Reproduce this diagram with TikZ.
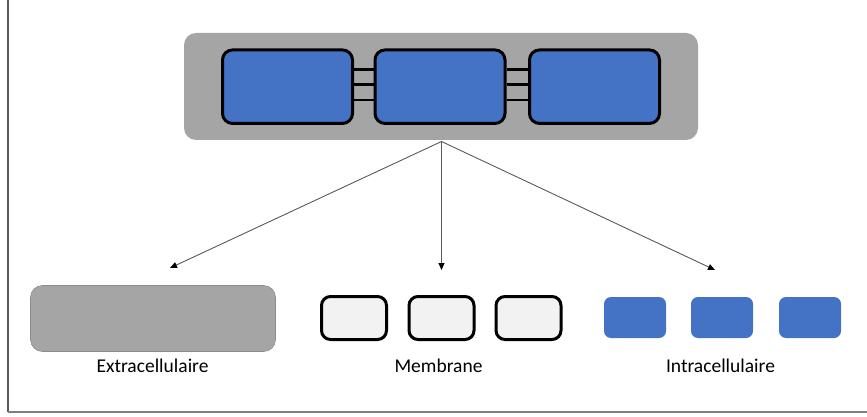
\documentclass[tikz,border=0pt]{standalone}
\usepackage{fontspec}
\setmainfont{Carlito}
\usetikzlibrary{arrows.meta}
\definecolor{boxgray}{HTML}{A5A5A5}
\definecolor{boxblue}{HTML}{4472C4}
\definecolor{lightfill}{HTML}{F2F2F2}
\definecolor{arrowgray}{HTML}{595959}
\definecolor{framegray}{HTML}{7F7F7F}
\tikzset{
  holder/.style={fill=boxgray, rounded corners=12pt, inner sep=0pt},
  bluebox/.style={fill=boxblue, draw=black, line width=3pt, rounded corners=10pt,
                  inner sep=0pt, minimum width=130pt, minimum height=73.5pt},
  rung/.style={draw=black, line width=2.6pt},
  pointer/.style={draw=arrowgray, line width=0.9pt,
                  -{Triangle[length=7pt,width=6pt,fill=black,color=black]}},
  extrabox/.style={fill=boxgray, draw=boxgray!85!black, line width=0.6pt,
                   rounded corners=12pt, inner sep=0pt,
                   minimum width=245pt, minimum height=66pt},
  membox/.style={fill=lightfill, draw=black, line width=3pt, rounded corners=9pt,
                 inner sep=0pt, minimum width=65pt, minimum height=43pt},
  intrabox/.style={fill=boxblue, rounded corners=7pt, inner sep=0pt,
                   minimum width=62pt, minimum height=41pt},
  caption/.style={font=\fontsize{19.5pt}{23pt}\selectfont, text=black, inner sep=0pt}
}
\begin{document}
\begin{tikzpicture}[x=1pt, y=-1pt]
  \useasboundingbox (0,0) rectangle (867,417);
  % frame lines on the left and bottom
  \draw[framegray!70!black, line width=1.4pt] (8,0) -- (8,412);
  \draw[framegray, line width=1.4pt] (8,412) -- (867,412);

  % top complex: three linked blue units on a gray holder
  \node[holder, minimum width=514pt, minimum height=107pt] (holder) at (441,86.5) {};
  \node[bluebox] (u1) at (287.5,86.7) {};
  \node[bluebox] (u2) at (440,86.7) {};
  \node[bluebox] (u3) at (594.5,86.7) {};
  \foreach \dy in {17,2,-13.5}{
    \draw[rung] ([yshift=\dy pt]u1.east) -- ([yshift=\dy pt]u2.west);
    \draw[rung] ([yshift=\dy pt]u2.east) -- ([yshift=\dy pt]u3.west);
  }

  % arrow targets
  \coordinate (hub) at (441.5,141.5);
  \coordinate (tExtra) at (170,268);
  \coordinate (tMem) at (441.5,270);
  \coordinate (tIntra) at (715,270);
  \draw[pointer] (hub) -- (tExtra);
  \draw[pointer] (hub) -- (tMem);
  \draw[pointer] (hub) -- (tIntra);

  % extracellular
  \node[extrabox] (extra) at (153,318.5) {};
  \node[caption] (lExtra) at (152.5,366) {Extracellulaire};

  % membrane
  \node[membox] (m1) at (354,318) {};
  \node[membox] (m2) at (441.5,318) {};
  \node[membox] (m3) at (528.5,318) {};
  \node[caption] (lMem) at (438.5,366) {Membrane};

  % intracellular
  \node[intrabox] (i1) at (635,317.5) {};
  \node[intrabox] (i2) at (722,317.5) {};
  \node[intrabox] (i3) at (810,317.5) {};
  \node[caption] (lIntra) at (720.5,366) {Intracellulaire};
\end{tikzpicture}
\end{document}
